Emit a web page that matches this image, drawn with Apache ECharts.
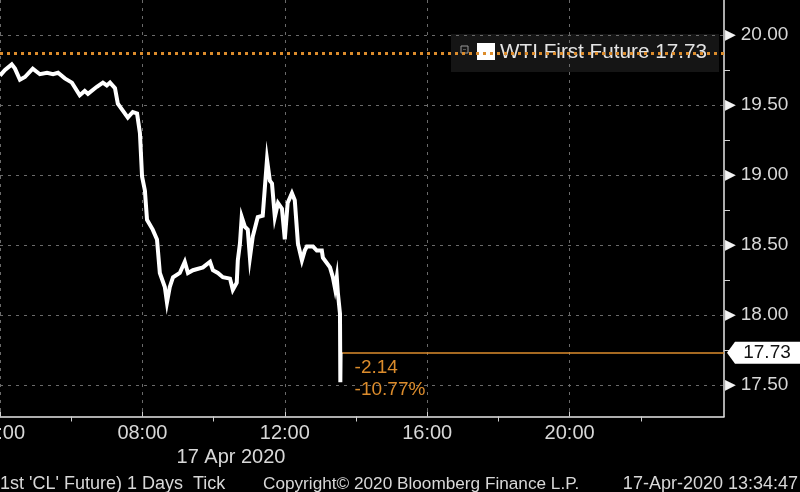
<!DOCTYPE html>
<html><head><meta charset="utf-8">
<script src="https://cdn.jsdelivr.net/npm/echarts@6/dist/echarts.min.js"></script>
<style>html,body{margin:0;padding:0;background:#000;}#c{width:800px;height:492px;}</style>
</head><body><div id="c"></div>
<script>
// ---- data (hours of 17 Apr 2020, price) ----
const times = [4.00,4.14,4.33,4.42,4.56,4.70,4.92,5.12,5.32,5.49,5.63,5.82,6.02,6.24,6.38,6.47,6.72,6.89,7.00,7.09,7.23,7.31,7.45,7.59,7.73,7.85,7.93,7.99,8.07,8.13,8.29,8.41,8.49,8.63,8.69,8.77,8.86,9.05,9.19,9.28,9.42,9.70,9.90,9.98,10.12,10.26,10.46,10.54,10.65,10.68,10.74,10.79,10.88,10.96,11.02,11.10,11.24,11.38,11.50,11.58,11.64,11.72,11.81,11.92,12.00,12.08,12.20,12.28,12.37,12.48,12.56,12.62,12.79,12.90,13.04,13.07,13.27,13.35,13.41,13.46,13.49,13.55,13.56,13.567];
const prices = [19.71,19.75,19.79,19.76,19.68,19.70,19.76,19.72,19.73,19.72,19.73,19.69,19.66,19.57,19.60,19.58,19.63,19.66,19.64,19.66,19.62,19.51,19.46,19.41,19.45,19.44,19.30,18.99,18.89,18.68,18.61,18.54,18.30,18.20,18.09,18.20,18.27,18.30,18.38,18.30,18.32,18.34,18.38,18.32,18.30,18.27,18.26,18.18,18.23,18.39,18.51,18.70,18.63,18.61,18.41,18.56,18.70,18.71,19.11,18.96,18.94,18.70,18.80,18.76,18.54,18.80,18.87,18.82,18.51,18.39,18.46,18.49,18.49,18.46,18.46,18.41,18.34,18.27,18.19,18.27,18.16,18.01,17.52,17.73];
const prevClose = 19.87;
const lastPrice = 17.73;
const seriesName = 'WTI First Future';
const yTicks = [17.5, 18.0, 18.5, 19.0, 19.5, 20.0];
const yMinorTicks = [17.75, 18.25, 18.75, 19.25, 19.75];
const xTicks = [4, 8, 12, 16, 20];
const xMinorTicks = [6, 10, 14, 18, 22];
const dateLabel = '17 Apr 2020';
const footLeft = "1st 'CL' Future) 1 Days  Tick";
const footMid = 'Copyright\u00a9 2020 Bloomberg Finance L.P.';
const footRight = '17-Apr-2020 13:34:47';

const X_MIN = 4, X_MAX = 24.337, Y_MIN = 17.275, Y_MAX = 20.25;
const FONT = "'Liberation Sans', Arial, sans-serif";
const TXT = '#d8d8d8';
const ORANGE = '#dc8c2c';

const lastTime = times[times.length - 1];
const chg = lastPrice - prevClose;
const pct = chg / prevClose * 100;
const pad = h => String(h % 24).padStart(2, '0') + ':00';

const chart = echarts.init(document.getElementById('c'), null, {renderer: 'canvas'});
chart.setOption({
  backgroundColor: '#000',
  animation: false,
  grid: {left: 0, top: 0, right: 76, bottom: 75.5, containLabel: false, outerBoundsMode: 'none'},
  xAxis: [{
    type: 'value', min: X_MIN, max: X_MAX, position: 'bottom',
    axisLine: {show: true, lineStyle: {color: '#e6e6e6', width: 1.5}},
    axisTick: {show: true, inside: true, length: 5, customValues: xTicks, lineStyle: {color: '#d0d0d0'}},
    axisLabel: {customValues: xTicks, formatter: v => pad(v), color: TXT, fontFamily: FONT, fontSize: 20, margin: 7},
    splitLine: {show: true, lineStyle: {color: '#6a6a6a', type: [3, 5], width: 1}}
  }, {
    type: 'value', min: X_MIN, max: X_MAX, position: 'bottom',
    axisLine: {show: false},
    axisTick: {show: true, inside: false, length: 5, customValues: xMinorTicks, lineStyle: {color: '#d0d0d0'}},
    axisLabel: {show: false},
    splitLine: {show: false}
  }],
  yAxis: [{
    type: 'value', min: Y_MIN, max: Y_MAX, position: 'right',
    axisLine: {show: true, lineStyle: {color: '#e6e6e6', width: 1.5}},
    axisTick: {show: false, customValues: yTicks},
    axisLabel: {
      customValues: yTicks, margin: 1, color: TXT, fontFamily: FONT, fontSize: 19,
      formatter: v => '{t|\u25B6}{v|' + v.toFixed(2) + '}',
      rich: {t: {color: '#f4f4f4', fontSize: 14, padding: [0, 5, 0, 0], fontFamily: 'DejaVu Sans'},
             v: {color: TXT, fontSize: 19, fontFamily: FONT}}
    },
    splitLine: {show: true, lineStyle: {color: '#6a6a6a', type: [3, 5], width: 1}}
  }, {
    type: 'value', min: Y_MIN, max: Y_MAX, position: 'right',
    axisLine: {show: false},
    axisTick: {show: true, inside: false, length: 6, customValues: yMinorTicks, lineStyle: {color: '#d0d0d0'}},
    axisLabel: {show: false},
    splitLine: {show: false}
  }],
  series: [{
    name: seriesName, type: 'line', xAxisIndex: 0, yAxisIndex: 0,
    data: times.map((t, i) => [t, prices[i]]),
    showSymbol: false, symbol: 'none',
    lineStyle: {color: '#ffffff', width: 4, join: 'miter'},
    z: 5,
    markLine: {
      silent: true, symbol: ['none', 'none'], label: {show: false},
      data: [
        {yAxis: prevClose, lineStyle: {color: ORANGE, type: [3, 4], width: 3}},
        [{coord: [lastTime, lastPrice], lineStyle: {color: ORANGE, type: 'solid', width: 1.5}},
         {coord: [X_MAX, lastPrice]}]
      ]
    },
    markPoint: {
      silent: true,
      data: [
        {coord: [X_MAX, lastPrice], symbol: 'path://M0,11 L8,0 L74,0 L74,22 L8,22 Z',
         symbolSize: [74, 22], symbolOffset: [40, 0],
         itemStyle: {color: '#ffffff'},
         label: {show: true, position: 'inside', offset: [3, 0], formatter: lastPrice.toFixed(2), color: '#111', fontFamily: FONT, fontSize: 19}},
        {coord: [lastTime, lastPrice], symbol: 'circle', symbolSize: 0,
         itemStyle: {color: 'transparent'},
         label: {show: true, position: [14, 4], align: 'left', verticalAlign: 'top',
                 formatter: chg.toFixed(2) + '\n' + pct.toFixed(2) + '%',
                 color: ORANGE, fontFamily: FONT, fontSize: 19, lineHeight: 22}}
      ]
    }
  }],
  graphic: [
    {type: 'rect', shape: {x: 451, y: 34, width: 268, height: 38}, style: {fill: 'rgba(38,38,38,0.55)'}, z: 0},
    {type: 'rect', shape: {x: 461, y: 46, width: 7, height: 7}, style: {fill: 'none', stroke: '#9a9a9a', lineWidth: 1}, z: 1},
    {type: 'rect', shape: {x: 463, y: 49.5, width: 3, height: 0.5}, style: {fill: '#9a9a9a'}, z: 1},
    {type: 'rect', shape: {x: 477, y: 43, width: 18, height: 17}, style: {fill: '#ffffff'}, z: 1},
    {type: 'text', x: 500, y: 52, style: {text: seriesName + ' ' + lastPrice.toFixed(2), fill: '#e4e4e4', font: '20.7px ' + FONT, textVerticalAlign: 'middle'}, z: 1},
    {type: 'text', x: 231, y: 457, style: {text: dateLabel, fill: TXT, font: '20px ' + FONT, textAlign: 'center', textVerticalAlign: 'middle'}},
    {type: 'text', x: 0, y: 484, style: {text: footLeft, fill: TXT, font: '18px ' + FONT, textVerticalAlign: 'middle'}},
    {type: 'text', x: 263, y: 484, style: {text: footMid, fill: TXT, font: '17.2px ' + FONT, textVerticalAlign: 'middle'}},
    {type: 'text', x: 798, y: 484, style: {text: footRight, fill: TXT, font: '18px ' + FONT, textAlign: 'right', textVerticalAlign: 'middle'}}
  ]
});
</script></body></html>
